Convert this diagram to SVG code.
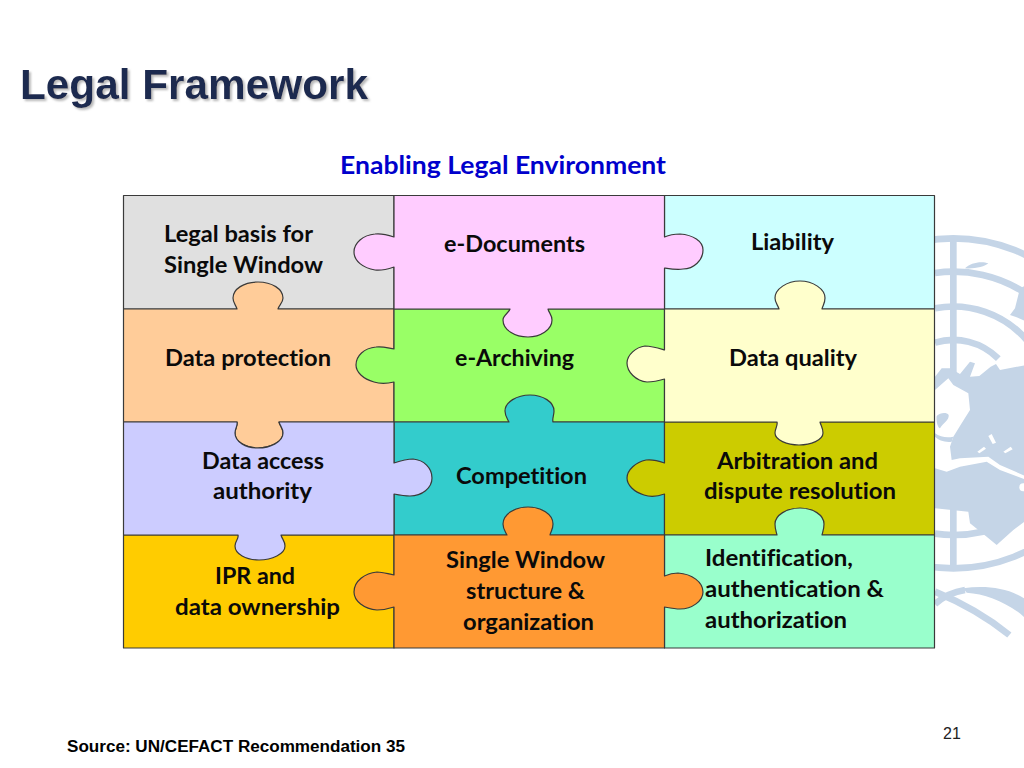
<svg xmlns="http://www.w3.org/2000/svg" width="1024" height="768" viewBox="0 0 1024 768">
<style>
text{font-variant-ligatures:none}
.p{stroke:#3a3a3a;stroke-width:1.2;stroke-linejoin:round}
.t{font-family:"Lato","Liberation Sans",sans-serif;font-weight:700;font-size:23px;fill:#0a0a0a;text-anchor:middle}
.a{font-family:"Liberation Sans",Arial,sans-serif}
.e{fill:none;stroke:#c5d5e7;stroke-width:20}
</style>
<defs><filter id="sh" x="-5%" y="-20%" width="110%" height="140%"><feDropShadow dx="2" dy="2" stdDeviation="1" flood-color="#9a9a9a" flood-opacity=".7"/></filter></defs>
<rect width="1024" height="768" fill="#fff"/>
<g id="emblem" transform="translate(920,220) scale(.33333)">
<circle class="e" cx="100" cy="550" r="495"/>
<path class="e" d="M45,159A395,395 0 0 1 320,222M45,941A395,395 0 0 0 320,878M45,265A290,290 0 0 1 320,360M45,368A190,190 0 0 1 235,416"/>
<path class="e" stroke-width="22" d="M100,55V480M100,865V1045"/>
<g fill="#c5d5e7">
<path d="M135,145C150,128 185,122 205,130C195,140 160,148 135,145Z"/>
<path d="M300,205L320,195V305L290,292L270,285L285,265Z"/>
<path d="M45,510V470L65,445L90,445L120,462L150,425L165,430L150,470L178,468L212,440L228,432L240,450L320,435V770L240,735L205,710L120,715L95,720L90,680L100,650L125,610L150,570L145,520L100,495L85,475Z"/>
<path d="M50,588C60,578 80,576 86,585C88,600 70,608 60,625C52,622 48,600 50,588Z"/>
<path d="M45,640C60,650 80,655 100,650L95,665C75,668 55,660 45,650Z"/>
<path d="M45,745L80,755L120,740L200,725L240,750L320,780V900L280,930L230,975L200,950L150,910L145,875L45,865Z"/>
<path d="M130,1105C200,1095 270,1105 320,1140V1198C270,1150 200,1122 140,1118Z"/>
</g>
<g fill="#fff"><path d="M205,648L215,642L228,668L218,672Z"/><path d="M172,695L192,680L198,686L178,700Z"/><path d="M250,695L272,680L278,688L256,700Z"/><circle cx="310" cy="802" r="12"/></g>
<path class="e" stroke-width="22" d="M45,1115C130,1150 200,1190 268,1245"/>
<path class="e" stroke-width="12" d="M45,1152C70,1130 100,1115 135,1110"/>
</g>
<text class="a" x="20" y="99" font-size="42" font-weight="700" fill="#1f2a4f" filter="url(#sh)" textLength="348" lengthAdjust="spacingAndGlyphs">Legal Framework</text>
<text x="503" y="174" font-family="Lato,'Liberation Sans',sans-serif" font-size="24" font-weight="700" fill="#0000cc" text-anchor="middle" textLength="326" lengthAdjust="spacingAndGlyphs">Enabling Legal Environment</text>

<g id="n-legal"><path class="p" fill="#e0e0e0" d="M123.5,195.5H394V309H123.5Z"/>
<text class="t" x="238.5" y="242" textLength="149" lengthAdjust="spacingAndGlyphs">Legal basis for</text><text class="t" x="243.5" y="273" textLength="159" lengthAdjust="spacingAndGlyphs">Single Window</text></g>
<g id="n-liability"><path class="p" fill="#ccffff" d="M664.5,195.5H934.5V309H664.5Z"/>
<text class="t" x="792.5" y="250" textLength="83" lengthAdjust="spacingAndGlyphs">Liability</text></g>
<g id="n-protection"><path class="p" fill="#ffcc99" d="M123.5,309H237C236,305 233,303 233,298C233,289 244,282 258,282C272,282 283,289 283,298C283,303 279,305 278,309H394V422H279C280,426 283,428 283,433C283,442 270,448 258,448C246,448 235,442 235,433C235,428 238,426 237,422H123.5Z"/>
<text class="t" x="248" y="366" textLength="166" lengthAdjust="spacingAndGlyphs">Data protection</text></g>
<g id="n-archiving"><path class="p" fill="#99ff66" d="M394,309H664.5V422H394V382C386,384 380,384 374,382C363,379 356,372 356,365C356,356 364,348 376,347C382,346 388,348 394,349Z"/>
<text class="t" x="514.5" y="366" textLength="119" lengthAdjust="spacingAndGlyphs">e-Archiving</text></g>
<g id="n-competition"><path class="p" fill="#33cccc" d="M394,422H509C507,418 505,416 505,411C505,402 517,395 530,395C543,395 554,402 554,411C554,416 552,418 553,422H664.5V535H394Z"/>
<text class="t" x="521.5" y="484" textLength="131" lengthAdjust="spacingAndGlyphs">Competition</text></g>
<g id="n-arbitration"><path class="p" fill="#cccc00" d="M664.5,422H934.5V535H664.5V494C656,497 650,497 644,495C634,492 627,485 627,478C627,470 636,462 646,460C653,459 659,461 664.5,463Z"/>
<text class="t" x="797.5" y="469" textLength="161" lengthAdjust="spacingAndGlyphs">Arbitration and</text><text class="t" x="800" y="499" textLength="192" lengthAdjust="spacingAndGlyphs">dispute resolution</text></g>
<g id="n-ipr"><path class="p" fill="#ffcc00" d="M123.5,535H394V648H123.5Z"/>
<text class="t" x="255" y="584" textLength="80" lengthAdjust="spacingAndGlyphs">IPR and</text><text class="t" x="257.5" y="615" textLength="165" lengthAdjust="spacingAndGlyphs">data ownership</text></g>
<g id="n-access"><path class="p" fill="#ccccff" d="M123.5,422H237C238,426 235,428 235,433C235,442 246,448 258,448C270,448 283,442 283,433C283,428 280,426 279,422H394V463C400,461 406,459 413,459C424,460 432,468 432,478C432,488 422,496 410,496C404,496 399,495 394,494V535H281C282,539 285,541 285,546C285,554 272,560 259,560C246,560 235,554 235,546C235,541 239,539 238,535H123.5Z"/>
<text class="t" x="263" y="469" textLength="122" lengthAdjust="spacingAndGlyphs">Data access</text><text class="t" x="262.5" y="499" textLength="99" lengthAdjust="spacingAndGlyphs">authority</text></g>
<g id="n-identification"><path class="p" fill="#99ffcc" d="M664.5,535H777C776,531 775,529 775,524C775,515 787,508 800,508C813,508 824,515 824,524C824,529 823,531 822,535H934.5V648H664.5Z"/>
<text class="t" x="779" y="566" textLength="148" lengthAdjust="spacingAndGlyphs">Identification,</text><text class="t" x="794.5" y="597" textLength="179" lengthAdjust="spacingAndGlyphs">authentication &amp;</text><text class="t" x="776" y="628" textLength="142" lengthAdjust="spacingAndGlyphs">authorization</text></g>
<g id="n-structure"><path class="p" fill="#ff9933" d="M394,535H507C505,531 503,529 503,524C503,514 515,507 528,507C541,507 553,514 553,524C553,529 551,531 550,535H664.5V576C669,574 673,573 678,573C692,574 703,582 703,592C703,601 692,609 680,609C675,609 670,608 664.5,607V648H394V607C388,609 383,610 377,610C364,609 354,601 354,592C354,581 365,573 377,572C383,572 388,574 394,575Z"/>
<text class="t" x="525.5" y="568" textLength="159" lengthAdjust="spacingAndGlyphs">Single Window</text><text class="t" x="525.5" y="599" textLength="119" lengthAdjust="spacingAndGlyphs">structure &amp;</text><text class="t" x="528.5" y="630" textLength="131" lengthAdjust="spacingAndGlyphs">organization</text></g>
<g id="n-documents"><path class="p" fill="#ffccff" d="M394,195.5H664.5V237C669,235 674,234 680,234C693,235 703,241 703,250C703,260 694,269 683,269C677,270 671,269 664.5,268V309H548C549,313 552,315 552,320C552,330 540,337 528,337C515,337 503,330 503,320C503,315 509,313 510,309H394V267C388,269 382,271 375,270C363,268 354,261 354,252C354,243 363,235 375,234C382,233 388,235 394,237Z"/>
<text class="t" x="514.5" y="252" textLength="141" lengthAdjust="spacingAndGlyphs">e-Documents</text></g>
<g id="n-quality"><path class="p" fill="#ffffcc" d="M664.5,309H779C778,305 775,303 775,298C775,289 787,281 800,281C813,281 825,289 825,298C825,303 823,305 822,309H934.5V422H820C821,426 823,428 823,433C823,440 811,445 799,445C787,445 775,440 775,433C775,428 778,426 777,422H664.5V379C658,381 652,382 647,382C636,381 627,372 627,363C627,355 636,347 645,346C652,346 658,348 664.5,350Z"/>
<text class="t" x="793" y="366" textLength="128" lengthAdjust="spacingAndGlyphs">Data quality</text></g>
<g id="connectors"/>
<text class="a" x="67" y="752" font-size="16" font-weight="700" fill="#000" textLength="338" lengthAdjust="spacingAndGlyphs">Source: UN/CEFACT Recommendation 35</text>
<text class="a" x="943" y="739" font-size="16" fill="#222">21</text>
</svg>
